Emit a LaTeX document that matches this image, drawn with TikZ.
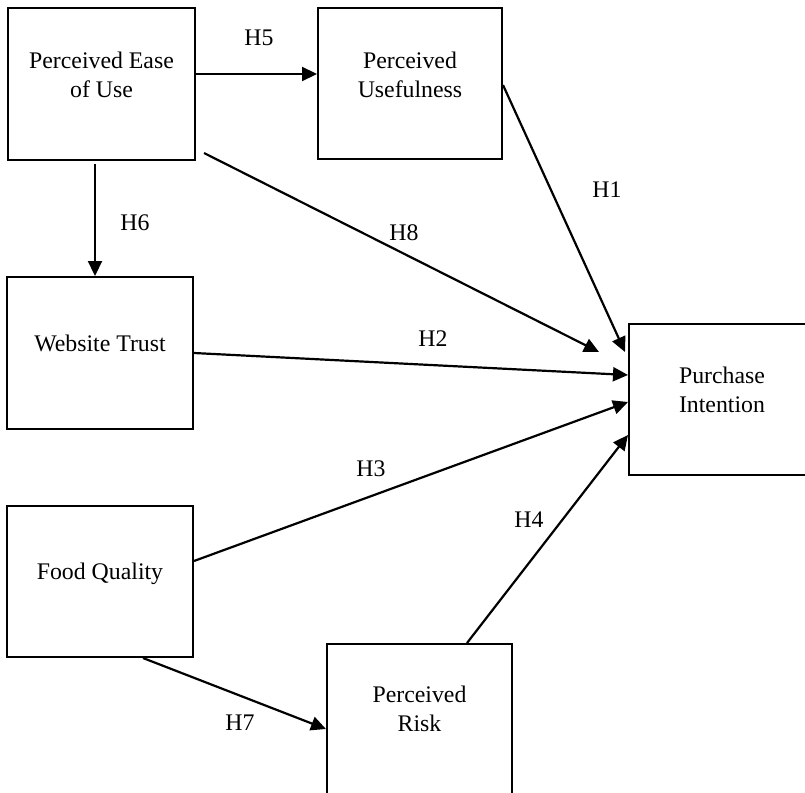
\documentclass[tikz,border=0pt]{standalone}
\usepackage{fontspec}
\setmainfont{Liberation Serif}
\usetikzlibrary{arrows.meta}
\begin{document}
\begin{tikzpicture}[x=1pt,y=-1pt,
  box/.style={draw, line width=2pt, rectangle, inner sep=0pt},
  txt/.style={font=\fontsize{23.8}{29}\selectfont, align=center, inner sep=0pt},
  hyp/.style={font=\fontsize{23.8}{29}\selectfont, inner sep=0pt},
  arr/.style={line width=2.2pt, -{Triangle[length=15pt,width=14pt]}},
  ln/.style={line width=2.2pt}]
\useasboundingbox (0,0) rectangle (805,792);
% boxes
\node[box, minimum width=187pt, minimum height=152pt] (peou) at (101.5,84) {};
\node[box, minimum width=184pt, minimum height=151pt] (pu) at (410,83.5) {};
\node[box, minimum width=186pt, minimum height=152pt] (wt) at (100,353) {};
\node[box, minimum width=186pt, minimum height=151pt] (fq) at (100,581.5) {};
\node[box, minimum width=185pt, minimum height=151pt] (pr) at (419.5,719.5) {};
\node[box, minimum width=186pt, minimum height=151pt] (pi) at (722,399.5) {};
% box texts
\node[txt] (peoutxt) at (101.5,74.5) {Perceived Ease\\of Use};
\node[txt] (putxt) at (410,74.5) {Perceived\\Usefulness};
\node[txt] (wttxt) at (100,343) {Website Trust};
\node[txt] (fqtxt) at (100,574) {Food Quality};
\node[txt] (prtxt) at (419.5,709) {Perceived\\Risk};
\node[txt] (pitxt) at (722,390) {Purchase\\Intention};
% arrows
\draw[arr] ([shift={(0,-10)}]peou.east) -- ([shift={(0,-9.5)}]pu.west);
\draw[arr] ([shift={(-6.5,3)}]peou.south) -- ([shift={(-5,0)}]wt.north);
\draw[arr] ([shift={(8,-8)}]peou.south east) -- ([shift={(-29,-47.5)}]pi.west);
\draw[arr] ([shift={(0,1.5)}]pu.east) -- ([shift={(-3,-47.5)}]pi.west);
\draw[arr] (wt.east) -- ([shift={(0,-24.5)}]pi.west);
\draw[arr] ([shift={(0,-20.5)}]fq.east) -- ([shift={(0,2.5)}]pi.west);
\draw[arr] ([shift={(47.5,0)}]pr.north) -- ([shift={(0,35.5)}]pi.west);
\draw[arr] ([shift={(43,0)}]fq.south) -- ([shift={(0,9.5)}]pr.west);
% hypothesis labels
\node[hyp] (h5) at (259,38) {H5};
\node[hyp] (h6) at (135,223) {H6};
\node[hyp] (h8) at (404,233) {H8};
\node[hyp] (h1) at (607,190) {H1};
\node[hyp] (h2) at (433,339) {H2};
\node[hyp] (h3) at (371,469) {H3};
\node[hyp] (h4) at (529,520) {H4};
\node[hyp] (h7) at (240,723) {H7};
\end{tikzpicture}
\end{document}
